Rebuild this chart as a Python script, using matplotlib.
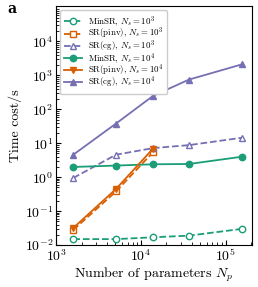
import numpy as np
import matplotlib
matplotlib.use("Agg")
import matplotlib.pyplot as plt

plt.rcParams['font.family'] = 'serif'
plt.rcParams['font.serif'] = ['cmr10', 'DejaVu Serif']
plt.rcParams['mathtext.fontset'] = 'cm'
plt.rcParams['axes.formatter.use_mathtext'] = True

GREEN = '#1b9e77'
ORANGE = '#d95f02'
PURPLE = '#7570b3'

# Number of parameters
n_params = [1.6e3, 5.1e3, 1.4e4, 3.7e4, 1.55e5]
n_params_pinv = [1.6e3, 5.1e3, 1.4e4]

# Time cost (s), Ns = 10^3
minsr_1e3 = [0.015, 0.015, 0.017, 0.019, 0.030]
pinv_1e3 = [0.028, 0.38, 5.5]
cg_1e3 = [0.95, 4.6, 7.2, 8.8, 14.5]

# Time cost (s), Ns = 10^4
minsr_1e4 = [2.0, 2.2, 2.4, 2.45, 4.0]
pinv_1e4 = [0.032, 0.45, 7.0]
cg_1e4 = [4.6, 38, 250, 750, 2100]

fig = plt.figure(figsize=(2.58, 2.87), dpi=100)
ax = fig.add_axes([0.217, 0.146, 0.760, 0.833])

ms = 4.6
ax.plot(n_params, minsr_1e3, '--o', color=GREEN, mfc='white', ms=ms, lw=1.3,
        label=r'MinSR, $N_s=10^3$')
ax.plot(n_params_pinv, pinv_1e3, '--s', color=ORANGE, mfc='white', ms=ms, lw=1.3,
        label=r'SR(pinv), $N_s=10^3$')
ax.plot(n_params, cg_1e3, '--^', color=PURPLE, mfc='white', ms=ms, lw=1.3,
        label=r'SR(cg), $N_s=10^3$')
ax.plot(n_params, minsr_1e4, '-o', color=GREEN, ms=ms, lw=1.3,
        label=r'MinSR, $N_s=10^4$')
ax.plot(n_params_pinv, pinv_1e4, '-v', color=ORANGE, ms=ms, lw=1.3,
        label=r'SR(pinv), $N_s=10^4$')
ax.plot(n_params, cg_1e4, '-^', color=PURPLE, ms=ms, lw=1.3,
        label=r'SR(cg), $N_s=10^4$')

ax.set_xscale('log')
ax.set_yscale('log')
ax.set_xlim(1e3, 2.05e5)
ax.set_ylim(1e-2, 1.1e5)
ax.set_yticks([1e-2, 1e-1, 1e0, 1e1, 1e2, 1e3, 1e4])
ax.tick_params(which='both', direction='in', labelsize=10, pad=2)
ax.set_xlabel(r'Number of parameters $N_p$', fontsize=10, labelpad=1)
ax.set_ylabel('Time cost/s', fontsize=10, labelpad=2)

ax.legend(loc='upper left', fontsize=6.4, handlelength=2.0, borderpad=0.45,
          labelspacing=-0.32, handletextpad=0.6, framealpha=1.0)

fig.text(0.03, 0.955, 'a', fontsize=10, fontweight='bold', family='DejaVu Serif')

fig.savefig('out.png', dpi=100)
